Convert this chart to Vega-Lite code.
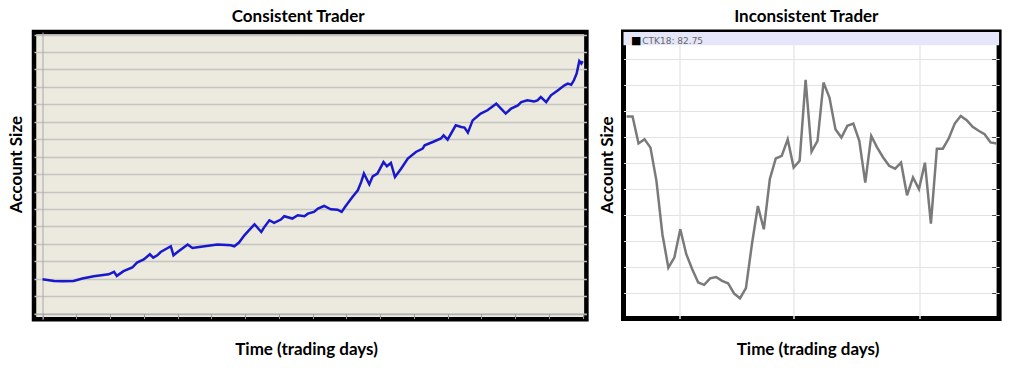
{
  "$schema": "https://vega.github.io/schema/vega-lite/v6.json",
  "background": "white",
  "padding": {"left": 5, "top": 5, "right": 5, "bottom": 5},
  "bounds": "flush",
  "spacing": 36.5,
  "config": {
    "font": "Lato",
    "title": {"font": "Lato", "fontSize": 17, "fontWeight": "bold", "color": "black"},
    "axis": {"titleFont": "Lato", "titleFontSize": 17, "titleFontWeight": "bold", "titleColor": "black"}
  },
  "hconcat": [
    {
      "width": 552.4,
      "height": 287.3,
      "title": {"text": "Consistent Trader", "frame": "group", "dx": -12, "offset": 6},
      "view": {"fill": "#ECE9DE", "stroke": "black", "strokeWidth": 4.5},
      "data": {"values": [
        {"day": 0, "value": 19.7}, {"day": 17, "value": 18.7}, {"day": 30, "value": 18.5}, {"day": 46, "value": 18.7},
        {"day": 59, "value": 20.1}, {"day": 76, "value": 21.4}, {"day": 98, "value": 22.5}, {"day": 106, "value": 23.9},
        {"day": 110, "value": 21.6}, {"day": 120, "value": 24.3}, {"day": 133, "value": 26.4}, {"day": 140, "value": 29.2},
        {"day": 150, "value": 31.0}, {"day": 159, "value": 34.0}, {"day": 164, "value": 32.1}, {"day": 170, "value": 33.4},
        {"day": 175, "value": 35.3}, {"day": 190, "value": 38.6}, {"day": 194, "value": 33.4}, {"day": 200, "value": 35.3},
        {"day": 210, "value": 38.2}, {"day": 215, "value": 39.6}, {"day": 222, "value": 37.6}, {"day": 240, "value": 38.6},
        {"day": 259, "value": 39.6}, {"day": 279, "value": 39.2}, {"day": 284, "value": 38.6}, {"day": 291, "value": 40.7},
        {"day": 299, "value": 44.9}, {"day": 306, "value": 47.8}, {"day": 314, "value": 51.2}, {"day": 324, "value": 46.8},
        {"day": 328, "value": 49.3}, {"day": 336, "value": 53.5}, {"day": 343, "value": 52.0}, {"day": 353, "value": 53.9},
        {"day": 358, "value": 55.8}, {"day": 370, "value": 54.5}, {"day": 378, "value": 56.4}, {"day": 388, "value": 55.8},
        {"day": 393, "value": 57.3}, {"day": 402, "value": 58.3}, {"day": 408, "value": 60.2}, {"day": 417, "value": 61.7},
        {"day": 427, "value": 59.8}, {"day": 437, "value": 59.6}, {"day": 443, "value": 58.3}, {"day": 449, "value": 61.7},
        {"day": 459, "value": 66.9}, {"day": 467, "value": 70.7}, {"day": 472, "value": 75.5}, {"day": 476, "value": 80.3},
        {"day": 484, "value": 74.1}, {"day": 489, "value": 78.7}, {"day": 496, "value": 80.3}, {"day": 505, "value": 86.9},
        {"day": 510, "value": 84.5}, {"day": 516, "value": 86.4}, {"day": 522, "value": 78.3}, {"day": 531, "value": 83.1},
        {"day": 541, "value": 88.9}, {"day": 553, "value": 92.7}, {"day": 563, "value": 94.6}, {"day": 566, "value": 96.5},
        {"day": 578, "value": 98.4}, {"day": 590, "value": 100.4}, {"day": 594, "value": 102.2}, {"day": 600, "value": 99.8},
        {"day": 612, "value": 108.0}, {"day": 620, "value": 107.0}, {"day": 625, "value": 106.7}, {"day": 630, "value": 103.8},
        {"day": 637, "value": 110.8}, {"day": 649, "value": 114.7}, {"day": 659, "value": 116.6}, {"day": 672, "value": 120.4},
        {"day": 679, "value": 117.6}, {"day": 686, "value": 114.7}, {"day": 694, "value": 117.6}, {"day": 704, "value": 119.4},
        {"day": 709, "value": 121.3}, {"day": 718, "value": 122.3}, {"day": 728, "value": 121.7}, {"day": 733, "value": 122.3},
        {"day": 738, "value": 124.2}, {"day": 746, "value": 121.3}, {"day": 753, "value": 125.2}, {"day": 763, "value": 128.0},
        {"day": 773, "value": 130.9}, {"day": 778, "value": 131.9}, {"day": 783, "value": 131.3}, {"day": 787, "value": 133.8},
        {"day": 791, "value": 137.6}, {"day": 795, "value": 144.8}, {"day": 798, "value": 143.4}, {"day": 800, "value": 144.8}
      ]},
      "mark": {"type": "line", "color": "#1818cc", "strokeWidth": 2.5, "clip": true},
      "encoding": {
        "x": {
          "field": "day", "type": "quantitative",
          "scale": {"domain": [-12.6, 805.5], "nice": false, "zero": false},
          "axis": {
            "title": "Time (trading days)",
            "values": [0, 50, 100, 150, 200, 250, 300, 350, 400, 450, 500, 550, 600, 650, 700, 750, 800],
            "labels": false, "ticks": true, "tickSize": 5, "tickColor": "#9a9a9a",
            "domain": true, "domainColor": "#a8a8a8", "grid": false,
            "offset": -5.7, "titlePadding": 22, "titleX": 272
          }
        },
        "y": {
          "field": "value", "type": "quantitative",
          "scale": {"domain": [-3.3, 161.5], "nice": false, "zero": false},
          "axis": {
            "title": "Account Size",
            "values": [0, 10, 20, 30, 40, 50, 60, 70, 80, 90, 100, 110, 120, 130, 140, 150, 160],
            "labels": false, "ticks": false,
            "domain": true, "domainColor": "#a8a8a8",
            "grid": true, "gridColor": "#c4c4c4", "gridWidth": 1.5,
            "offset": -8.5, "titlePadding": 17, "titleY": 132
          }
        }
      }
    },
    {
      "width": 375.6,
      "height": 286.5,
      "title": {"text": "Inconsistent Trader", "frame": "group", "dx": -5, "offset": 6},
      "view": {"fill": "white", "stroke": "black", "strokeWidth": 5},
      "resolve": {"axis": {"x": "independent", "y": "independent"}},
      "data": {"values": [
        {"i": 0, "v": 77.9}, {"i": 1, "v": 77.9}, {"i": 2, "v": 67.5}, {"i": 3, "v": 69.1}, {"i": 4, "v": 65.9},
        {"i": 5, "v": 53.1}, {"i": 6, "v": 32.5}, {"i": 7, "v": 19.6}, {"i": 8, "v": 23.5}, {"i": 9, "v": 34.4},
        {"i": 10, "v": 24.8}, {"i": 11, "v": 19.0}, {"i": 12, "v": 13.9}, {"i": 13, "v": 13.0}, {"i": 14, "v": 15.5},
        {"i": 15, "v": 16.0}, {"i": 16, "v": 14.5}, {"i": 17, "v": 13.6}, {"i": 18, "v": 9.7}, {"i": 19, "v": 7.8},
        {"i": 20, "v": 11.7}, {"i": 21, "v": 28.6}, {"i": 22, "v": 43.4}, {"i": 23, "v": 34.4}, {"i": 24, "v": 53.7},
        {"i": 25, "v": 61.7}, {"i": 26, "v": 62.7}, {"i": 27, "v": 69.1}, {"i": 28, "v": 58.2}, {"i": 29, "v": 60.8},
        {"i": 30, "v": 92.0}, {"i": 31, "v": 64.4}, {"i": 32, "v": 68.5}, {"i": 33, "v": 91.0}, {"i": 34, "v": 85.2},
        {"i": 35, "v": 73.0}, {"i": 36, "v": 69.8}, {"i": 37, "v": 74.3}, {"i": 38, "v": 75.2}, {"i": 39, "v": 68.5},
        {"i": 40, "v": 52.4}, {"i": 41, "v": 70.4}, {"i": 42, "v": 65.9}, {"i": 43, "v": 62.1}, {"i": 44, "v": 58.9},
        {"i": 45, "v": 57.8}, {"i": 46, "v": 60.1}, {"i": 47, "v": 47.5}, {"i": 48, "v": 54.4}, {"i": 49, "v": 49.9},
        {"i": 50, "v": 60.1}, {"i": 51, "v": 36.6}, {"i": 52, "v": 65.5}, {"i": 53, "v": 65.5}, {"i": 54, "v": 69.5},
        {"i": 55, "v": 75.2}, {"i": 56, "v": 78.1}, {"i": 57, "v": 76.5}, {"i": 58, "v": 73.9}, {"i": 59, "v": 72.4},
        {"i": 60, "v": 71.1}, {"i": 61, "v": 67.9}, {"i": 62, "v": 67.5}
      ]},
      "layer": [
        {
          "data": {"values": [{}]},
          "mark": {"type": "rect", "color": "#E6E6FA"},
          "encoding": {
            "y": {
              "datum": 105.4, "type": "quantitative",
              "axis": {
                "orient": "right", "title": null,
                "values": [10, 20, 30, 40, 50, 60, 70, 80, 90, 100],
                "labels": false, "ticks": true, "tickSize": 4, "tickColor": "#444444", "tickWidth": 1,
                "domain": false, "grid": false, "offset": -7.5
              }
            },
            "y2": {"datum": 110.5}
          }
        },
        {
          "mark": {"type": "line", "color": "#7a7a7a", "strokeWidth": 2.5},
          "encoding": {
            "x": {
              "field": "i", "type": "quantitative",
              "scale": {"domain": [-0.52, 62.43], "nice": false, "zero": false},
              "axis": {
                "title": "Time (trading days)",
                "values": [8.9, 27.9, 49.1],
                "labels": false, "ticks": false, "domain": false,
                "grid": true, "gridColor": "#e8e8e8", "gridWidth": 1.5,
                "titlePadding": 23, "titleX": 184
              }
            },
            "y": {
              "field": "v", "type": "quantitative",
              "scale": {"domain": [0, 110.5], "nice": false, "zero": false},
              "axis": {
                "orient": "left", "title": "Account Size",
                "values": [10, 20, 30, 40, 50, 60, 70, 80, 90, 100],
                "labels": false, "ticks": false, "domain": false,
                "grid": true, "gridColor": "#e3e3e3", "gridWidth": 1.2,
                "titlePadding": 7, "titleY": 132.5
              }
            }
          }
        },
        {
          "data": {"values": [{}]},
          "mark": {"type": "text", "text": "■", "fontSize": 11, "font": "DejaVu Sans", "color": "black", "align": "left", "baseline": "middle"},
          "encoding": {
            "x": {"datum": 0.72, "type": "quantitative", "axis": null},
            "y": {"datum": 107.2, "type": "quantitative", "axis": null}
          }
        },
        {
          "data": {"values": [{}]},
          "mark": {"type": "text", "text": "CTK18: 82.75", "fontSize": 9, "font": "DejaVu Sans", "color": "#666666", "align": "left", "baseline": "middle"},
          "encoding": {
            "x": {"datum": 2.63, "type": "quantitative", "axis": null},
            "y": {"datum": 107.2, "type": "quantitative", "axis": null}
          }
        }
      ]
    }
  ]
}
